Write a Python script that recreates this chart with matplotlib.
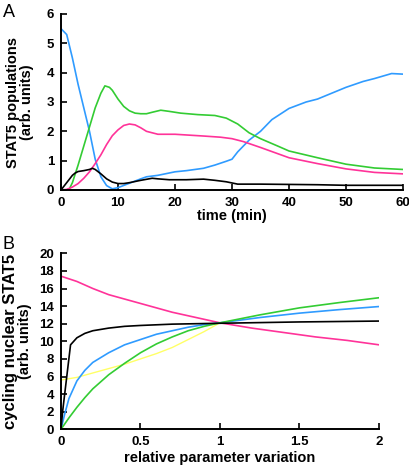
import matplotlib
matplotlib.use("Agg")
import matplotlib.pyplot as plt

plt.rcParams['font.family'] = ['Liberation Sans', 'DejaVu Sans']
plt.rcParams['font.weight'] = 'bold'

# Panel A: time courses (min)
blue_t = [0, 1, 2, 3, 4, 5, 6, 7, 8, 9, 10, 12, 14, 15, 17, 20, 22, 25, 27, 29, 30,
          31, 33, 35, 37, 40, 43, 45, 50, 53, 55, 58, 60]
blue_y = [5.5, 5.3, 4.5, 3.6, 2.8, 2.0, 1.05, 0.45, 0.15, 0.04, 0.08, 0.23, 0.38, 0.45,
          0.5, 0.62, 0.66, 0.74, 0.85, 0.98, 1.05, 1.3, 1.7, 2.0, 2.4, 2.78, 3.0, 3.1,
          3.5, 3.7, 3.8, 3.97, 3.95]

green_t = [0, 1, 1.5, 2, 2.5, 3, 4, 5, 6, 7, 7.7, 8.5, 9, 10, 11, 12, 13, 14, 15, 16,
           17.5, 19, 21, 24, 27, 29, 31, 33, 35, 38, 40, 45, 50, 55, 60]
green_y = [0, 0, 0.05, 0.25, 0.55, 0.85, 1.5, 2.15, 2.8, 3.3, 3.55, 3.5, 3.4, 3.1,
           2.85, 2.7, 2.62, 2.6, 2.6, 2.65, 2.72, 2.68, 2.62, 2.57, 2.54, 2.45, 2.25,
           1.95, 1.75, 1.5, 1.33, 1.1, 0.88, 0.75, 0.7]

pink_t = [0, 1, 2, 3, 4, 5, 6, 7, 8, 9, 10, 11, 12, 13, 14, 15, 17, 20, 25, 28, 30,
          32, 35, 40, 45, 50, 55, 60]
pink_y = [0, 0.02, 0.1, 0.22, 0.4, 0.62, 0.9, 1.2, 1.55, 1.85, 2.05, 2.2, 2.25, 2.22,
          2.12, 2.0, 1.9, 1.9, 1.84, 1.8, 1.75, 1.65, 1.45, 1.1, 0.9, 0.72, 0.6, 0.55]

black_t = [0, 1, 2, 2.5, 3, 4, 5, 5.5, 6, 7, 8, 9, 10, 11, 12, 14, 16, 17, 19, 22, 25,
           27, 29, 31, 35, 40, 45, 50, 55, 60]
black_y = [0, 0.25, 0.5, 0.58, 0.63, 0.66, 0.7, 0.74, 0.7, 0.55, 0.38, 0.27, 0.22,
           0.22, 0.25, 0.33, 0.4, 0.38, 0.35, 0.35, 0.37, 0.33, 0.28, 0.2, 0.2, 0.19,
           0.18, 0.16, 0.16, 0.16]

# Panel B: relative parameter variation
pink_bx = [0, 0.1, 0.2, 0.3, 0.4, 0.5, 0.6, 0.7, 0.8, 0.9, 1.0, 1.2, 1.4, 1.6, 1.8, 2.0]
pink_by = [17.4, 16.8, 16.0, 15.3, 14.8, 14.3, 13.8, 13.3, 12.9, 12.5, 12.1, 11.5,
           11.0, 10.5, 10.1, 9.6]

green_bx = [0, 0.05, 0.1, 0.15, 0.2, 0.3, 0.4, 0.5, 0.6, 0.7, 0.8, 0.9, 1.0, 1.25,
            1.5, 1.75, 2.0]
green_by = [0, 1.3, 2.5, 3.6, 4.6, 6.2, 7.5, 8.7, 9.7, 10.5, 11.2, 11.7, 12.1, 13.0,
            13.8, 14.4, 14.95]

blue_bx = [0, 0.02, 0.05, 0.1, 0.15, 0.2, 0.3, 0.4, 0.5, 0.6, 0.7, 0.8, 0.9, 1.0,
           1.25, 1.5, 1.75, 2.0]
blue_by = [0, 1.5, 3.5, 5.5, 6.7, 7.6, 8.7, 9.6, 10.2, 10.8, 11.2, 11.6, 11.9, 12.1,
           12.7, 13.2, 13.6, 13.95]

black_bx = [0, 0.01, 0.06, 0.1, 0.15, 0.2, 0.3, 0.4, 0.5, 0.7, 1.0, 1.5, 2.0]
black_by = [0, 2.0, 9.6, 10.4, 10.9, 11.2, 11.5, 11.7, 11.8, 11.95, 12.05, 12.2, 12.3]

yellow_bx = [0, 0.1, 0.2, 0.3, 0.4, 0.5, 0.6, 0.7, 0.8, 0.9, 1.0]
yellow_by = [5.6, 5.9, 6.4, 6.9, 7.4, 8.0, 8.6, 9.3, 10.2, 11.1, 12.1]

c_blue = '#2f9bff'
c_green = '#33cc33'
c_pink = '#ff3399'
c_yellow = '#ffff66'
lw = 1.2

fig = plt.figure(figsize=(4.1, 4.71), dpi=100)
axA = fig.add_axes([61/410, 281/471, 342/410, 176/471])
axB = fig.add_axes([61/410, 41.7/471, 318/410, 176/471])


def style(ax):
    for s in ['top', 'right']:
        ax.spines[s].set_visible(False)
    for s in ['left', 'bottom']:
        ax.spines[s].set_linewidth(1.4)
    ax.tick_params(direction='in', length=4, width=1.2, labelsize=9.5, pad=5)
    for lab in ax.get_xticklabels() + ax.get_yticklabels():
        lab.set_fontweight('bold')


axA.plot(blue_t, blue_y, color=c_blue, lw=lw)
axA.plot(green_t, green_y, color=c_green, lw=lw)
axA.plot(pink_t, pink_y, color=c_pink, lw=lw)
axA.plot(black_t, black_y, color='black', lw=lw)
axA.set_xlim(0, 60)
axA.set_ylim(0, 6)
axA.set_xticks([0, 10, 20, 30, 40, 50, 60])
axA.set_yticks([0, 1, 2, 3, 4, 5, 6])
style(axA)
axA.set_xlabel('time (min)', fontsize=10.5, fontweight='bold', labelpad=0)
axA.set_ylabel('STAT5 populations\n(arb. units)', fontsize=10.5, fontweight='bold',
               labelpad=9, linespacing=1.0)

axB.plot(yellow_bx, yellow_by, color=c_yellow, lw=1.0)
axB.plot(pink_bx, pink_by, color=c_pink, lw=lw)
axB.plot(blue_bx, blue_by, color=c_blue, lw=lw)
axB.plot(green_bx, green_by, color=c_green, lw=lw)
axB.plot(black_bx, black_by, color='black', lw=lw)
axB.set_xlim(0, 2)
axB.set_ylim(0, 20)
axB.set_xticks([0, 0.5, 1, 1.5, 2])
axB.set_xticklabels(['0', '0.5', '1', '1.5', '2'])
axB.set_yticks(range(0, 21, 2))
style(axB)
axB.set_xlabel('relative parameter variation', fontsize=10.5, fontweight='bold',
               labelpad=2)

# two-line y label of panel B, first line drawn larger as in the original
yc = (41.7 + 88) / 471
fig.text(11/410, yc, 'cycling nuclear STAT5', rotation=90, fontsize=12,
         fontweight='bold', ha='center', va='center')
fig.text(25/410, yc, '(arb. units)', rotation=90, fontsize=10.5,
         fontweight='bold', ha='center', va='center')

fig.text(3/410, 1 - 17/471, 'A', fontsize=13, fontweight='normal')
fig.text(3/410, 1 - 249/471, 'B', fontsize=13, fontweight='normal')

fig.savefig('out.png', dpi=100)
